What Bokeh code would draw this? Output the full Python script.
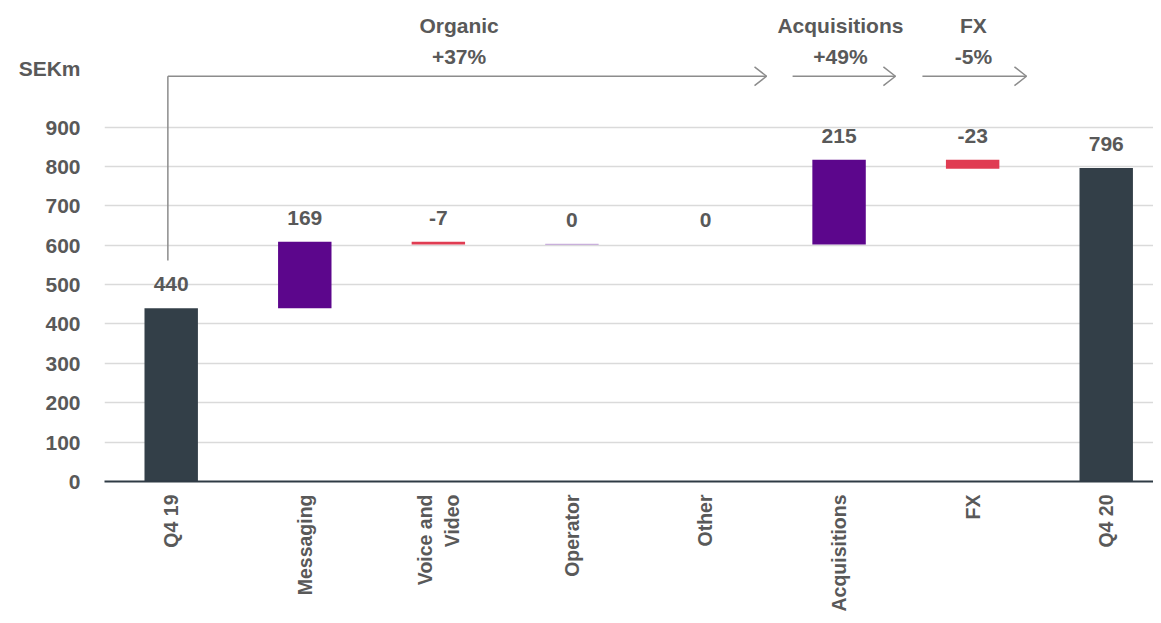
import math
from bokeh.plotting import figure
from bokeh.models import Range1d, FixedTicker, Label, ColumnDataSource
from bokeh.core.properties import value
from bokeh.embed import file_html
from bokeh.resources import INLINE

# ---- data ----
categories = ["Q4 19", "Messaging", "Voice and\nVideo", "Operator", "Other",
              "Acquisitions", "FX", "Q4 20"]
changes = [440, 169, -7, 0, 0, 215, -23, 796]
is_total = [True, False, False, False, False, False, False, True]
y_ticks = [0, 100, 200, 300, 400, 500, 600, 700, 800, 900]
unit_label = "SEKm"
group_names = ["Organic", "Acquisitions", "FX"]
group_changes = ["+37%", "+49%", "-5%"]

# ---- styles ----
FONT = "Liberation Sans"
TXT = "#595959"
DARK = "#333f48"
PURPLE = "#5c068c"
RED = "#e03c52"
ZERO_LINE = [None, None, None, "#c9b0dc", None, None, None, None]
UNIT_POS = 1049  # vertical position of the unit label on the value axis

# ---- waterfall geometry from data ----
bottoms, tops = [], []
running = 0
for v, tot in zip(changes, is_total):
    if tot:
        bottoms.append(0)
        tops.append(v)
        running = v
    else:
        bottoms.append(running)
        running += v
        tops.append(running)

colors = []
for v, tot in zip(changes, is_total):
    if tot:
        colors.append(DARK)
    elif v < 0:
        colors.append(RED)
    else:
        colors.append(PURPLE)

xs = list(range(len(categories)))
source = ColumnDataSource(dict(
    x=xs,
    bottom=bottoms,
    top=tops,
    color=colors,
    line_color=ZERO_LINE,
    label=[str(v) for v in changes],
    label_y=[max(b, t) for b, t in zip(bottoms, tops)],
))

p = figure(width=1153, height=615,
           x_range=Range1d(-0.4994, 7.354), y_range=Range1d(0, 1201),
           output_backend="svg", toolbar_location=None,
           min_border_left=104, min_border_right=0,
           min_border_top=8, min_border_bottom=134)
p.outline_line_color = None
p.background_fill_color = "white"
p.border_fill_color = "white"

# grid
p.xgrid.visible = False
p.ygrid.ticker = FixedTicker(ticks=y_ticks)
p.ygrid.grid_line_color = "#dadada"
p.ygrid.grid_line_width = 1.6

# y axis (unit label shown at the top of the value axis)
p.yaxis.ticker = FixedTicker(ticks=y_ticks + [UNIT_POS])
p.yaxis.major_label_overrides = {UNIT_POS: unit_label}
p.yaxis.axis_line_color = None
p.yaxis.major_tick_line_color = None
p.yaxis.minor_tick_line_color = None
p.yaxis.major_tick_out = 0
p.yaxis.major_tick_in = 0
p.yaxis.major_label_standoff = 24
p.yaxis.major_label_text_font = FONT
p.yaxis.major_label_text_font_style = "bold"
p.yaxis.major_label_text_font_size = "21px"
p.yaxis.major_label_text_color = TXT

# x axis
p.xaxis.ticker = FixedTicker(ticks=xs)
p.xaxis.major_label_overrides = {i: c for i, c in zip(xs, categories)}
p.xaxis.major_label_orientation = math.pi / 2
p.xaxis.axis_line_color = "#2f3b45"
p.xaxis.axis_line_width = 2
p.xaxis.major_tick_line_color = None
p.xaxis.minor_tick_line_color = None
p.xaxis.major_tick_out = 0
p.xaxis.major_tick_in = 0
p.xaxis.major_label_standoff = 13
p.xaxis.major_label_text_font = FONT
p.xaxis.major_label_text_font_style = "bold"
p.xaxis.major_label_text_font_size = "19.5px"
p.xaxis.major_label_text_color = TXT

# bars
p.vbar(x="x", bottom="bottom", top="top", width=0.4, source=source,
       fill_color="color", line_color="line_color", line_width=1.2)

# value labels
p.text(x="x", y="label_y", text="label", source=source,
       text_align="center", text_baseline="middle", y_offset=-24,
       text_font=value(FONT), text_font_style="bold",
       text_font_size="21px", text_color=TXT)

# ---- bracket arrows (annotation decoration) ----
ARROW = "#8c8c8c"
arrow_y = 1029
head_dx, head_dy = 0.09, 24

def add_arrow(x0, x1, y):
    p.line([x0, x1], [y, y], line_color=ARROW, line_width=1.5)
    p.line([x1 - head_dx, x1, x1 - head_dx], [y + head_dy, y, y - head_dy],
           line_color=ARROW, line_width=1.5)

p.line([-0.025, -0.025], [561, arrow_y], line_color=ARROW, line_width=1.5)
add_arrow(-0.025, 4.457, arrow_y)
add_arrow(4.652, 5.422, arrow_y)
add_arrow(5.624, 6.403, arrow_y)

group_x = [2.155, 5.01, 6.006]
for gx, name, chg in zip(group_x, group_names, group_changes):
    for txt, yy in ((name, 1158), (chg, 1078)):
        p.add_layout(Label(x=gx, y=yy, text=txt, text_align="center",
                           text_baseline="middle", text_font=FONT,
                           text_font_style="bold", text_font_size="21px",
                           text_color=TXT))

open("out.html", "w").write(file_html(p, INLINE))
